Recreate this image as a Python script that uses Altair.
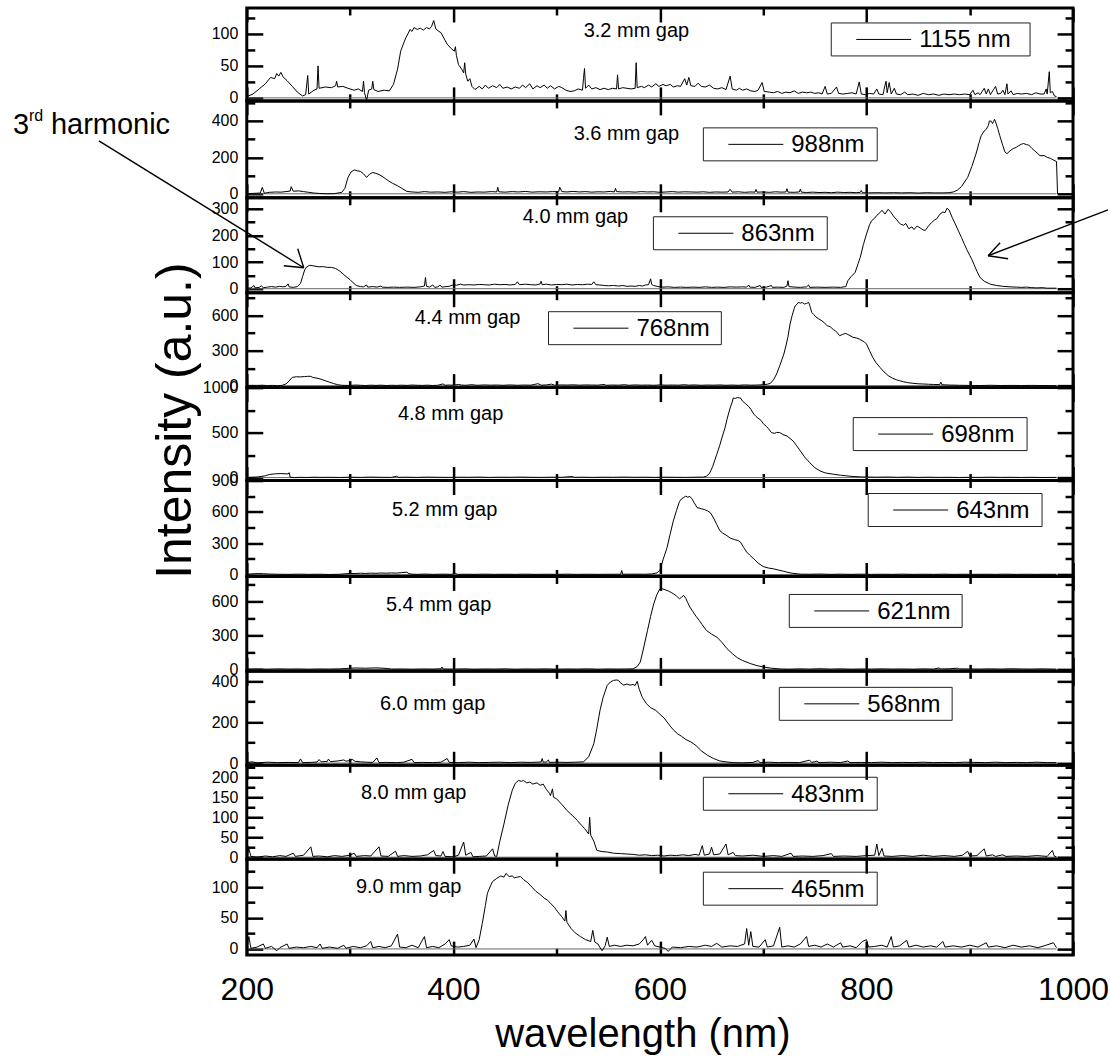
import altair as alt
import pandas as pd

FONT = "Liberation Sans"

# ---------------- data ----------------
gap_labels = ["3.2 mm gap", "3.6 mm gap", "4.0 mm gap", "4.4 mm gap", "4.8 mm gap",
              "5.2 mm gap", "5.4 mm gap", "6.0 mm gap", "8.0 mm gap", "9.0 mm gap"]
peak_labels = ["1155 nm", "988nm", "863nm", "768nm", "698nm",
               "643nm", "621nm", "568nm", "483nm", "465nm"]
y_domains = [[-4.7, 140.6], [-22, 510], [-15, 341], [-17, 797], [-33, 1000],
             [-19, 900], [-18, 823], [-11, 447], [-5, 230], [-10, 145]]
y_major = [[0, 50, 100], [0, 200, 400], [0, 100, 200, 300], [0, 300, 600], [0, 500, 1000],
           [0, 300, 600, 900], [0, 300, 600], [0, 200, 400], [0, 50, 100, 150, 200], [0, 50, 100]]
y_minor = [[25, 75, 125], [100, 300, 500], [50, 150, 250], [150, 450, 750], [250, 750],
           [150, 450, 750], [150, 450, 750], [100, 300], [25, 75, 125, 175, 225], [25, 75, 125]]
x_major = [200, 400, 600, 800, 1000]
x_minor = [300, 500, 700, 900]

s32 = [(200,2),(206,6),(212,14),(218,22),(223,32),(227,30),(229,38),(231,34),(233,40),(235,33),(239,27),(244,18),(249,9),(254,3),(257,5),(259,35),(260,6),(265,12),(268,14),(269,50),(270,15),(276,17),(282,16),(286,19),(287,26),(288,17),(293,18),(298,15),(302,13),(304,12),(308,14),(312,10),(313,26),(314,8),(316,-4),(318,12),(321,14),(322,26),(323,13),(327,10),(333,12),(338,11),(342,21),(346,45),(349,73),(352,86),(354,94),(356,100),(358,107),(360,104),(362,110),(365,107),(368,109),(371,106),(374,110),(377,108),(379,112),(381,121),(383,108),(386,104),(388,102),(391,93),(394,84),(398,77),(401,73),(402,80),(403,66),(405,52),(408,45),(410,39),(411,55),(412,37),(414,26),(416,30),(418,18),(421,13),(425,18),(428,14),(431,20),(434,15),(438,19),(442,16),(445,21),(448,15),(452,17),(456,14),(460,17),(464,15),(467,20),(470,16),(474,22),(477,14),(481,19),(484,16),(488,20),(491,15),(494,19),(498,14),(502,18),(505,16),(509,12),(513,10),(517,11),(521,14),(525,12),(526,30),(527,46),(528,15),(531,20),(534,14),(538,16),(542,13),(546,15),(550,13),(554,15),(558,14),(559,36),(560,14),(564,16),(568,15),(572,14),(576,15),(577,55),(578,16),(582,18),(585,16),(589,20),(592,17),(596,22),(599,18),(603,21),(606,19),(610,21),(613,17),(617,19),(620,18),(624,30),(626,20),(628,32),(630,19),(634,18),(637,23),(640,18),(644,17),(648,20),(652,15),(656,14),(660,16),(664,13),(668,34),(670,14),(674,12),(677,15),(680,12),(684,14),(688,11),(692,10),(695,12),(699,24),(701,10),(706,9),(710,8),(714,10),(718,7),(722,9),(726,8),(730,11),(734,7),(738,9),(742,8),(746,9),(750,7),(754,8),(757,6),(760,18),(762,6),(766,7),(771,17),(773,7),(777,6),(782,7),(786,8),(790,6),(793,25),(795,6),(799,5),(803,7),(807,6),(810,14),(812,6),(816,5),(818,20),(819,26),(820,8),(822,24),(824,6),(827,15),(829,6),(833,5),(837,9),(840,5),(845,6),(850,4),(855,7),(860,5),(865,6),(870,4),(875,6),(880,5),(885,6),(890,5),(895,6),(900,5),(903,12),(905,5),(908,8),(910,5),(914,15),(916,6),(918,14),(920,5),(923,13),(925,18),(927,6),(930,7),(932,12),(934,5),(936,22),(937,6),(940,11),(942,5),(946,7),(950,6),(955,7),(960,5),(964,8),(968,6),(972,6),(974,14),(975,6),(977,41),(978,8),(980,10),(982,3),(984,2)]

s36 = [(200,0),(205,2),(213,4),(215,35),(217,3),(222,8),(228,10),(233,9),(238,12),(242,15),(243,39),(245,14),(250,16),(255,12),(260,8),(265,4),(270,2),(278,0),(285,1),(292,8),(295,30),(298,90),(301,120),(304,131),(307,126),(310,123),(313,110),(316,90),(319,108),(322,117),(325,112),(328,106),(331,96),(334,84),(337,72),(341,58),(346,44),(350,30),(355,13),(360,10),(366,8),(372,12),(378,9),(385,10),(392,8),(398,11),(404,9),(410,12),(417,8),(424,10),(430,9),(437,12),(442,10),(443,36),(444,11),(450,9),(457,12),(463,10),(470,13),(476,9),(483,11),(490,10),(496,12),(502,11),(503,36),(505,12),(510,10),(516,13),(522,10),(528,12),(534,9),(540,11),(546,10),(552,13),(556,10),(557,30),(558,12),(564,10),(570,11),(576,9),(582,12),(588,10),(594,11),(600,8),(606,10),(612,12),(618,9),(624,11),(630,10),(636,9),(642,11),(648,8),(654,10),(660,9),(666,10),(668,25),(670,9),(676,11),(682,8),(688,10),(692,9),(693,24),(694,9),(700,10),(706,8),(712,11),(718,9),(722,10),(723,28),(724,9),(730,8),(735,10),(736,26),(737,9),(742,7),(748,9),(754,7),(760,8),(766,6),(772,9),(778,7),(784,8),(790,6),(794,8),(795,18),(796,6),(802,5),(810,6),(818,5),(826,6),(834,5),(842,6),(850,4),(858,6),(866,5),(874,5),(880,6),(884,10),(888,20),(892,40),(898,90),(902,150),(906,218),(909,280),(911,318),(914,345),(916,354),(918,375),(919,400),(921,398),(922,385),(923,395),(924,409),(925,395),(927,360),(929,320),(932,265),(934,230),(936,220),(939,236),(942,248),(945,255),(947,263),(950,272),(952,276),(955,270),(957,268),(960,250),(963,235),(966,220),(968,209),(972,210),(975,200),(978,195),(981,185),(984,177),(985,0)]

s40 = [(200,2),(204,3),(207,12),(208,3),(212,5),(214,11),(216,4),(220,6),(224,8),(228,6),(232,9),(235,7),(238,9),(240,18),(241,7),(245,5),(249,8),(252,20),(254,45),(256,70),(258,82),(261,88),(264,86),(267,84),(270,82),(274,83),(278,80),(282,80),(286,76),(290,66),(293,56),(296,46),(300,34),(303,22),(306,12),(310,8),(313,7),(316,14),(317,6),(322,8),(326,6),(330,10),(331,6),(336,5),(342,6),(348,5),(355,6),(362,5),(368,7),(372,10),(373,42),(374,9),(377,6),(380,14),(382,5),(385,7),(387,13),(389,6),(393,8),(396,9),(400,15),(403,13),(407,17),(410,14),(415,15),(420,14),(425,16),(430,15),(435,14),(440,17),(445,15),(450,16),(455,14),(460,16),(462,26),(464,15),(470,17),(475,15),(480,14),(484,18),(485,28),(486,15),(490,17),(495,14),(500,16),(505,15),(510,17),(515,14),(520,16),(525,15),(530,17),(534,16),(536,26),(538,15),(542,14),(546,12),(550,11),(555,12),(560,10),(564,12),(568,9),(572,10),(576,9),(580,12),(583,10),(586,14),(589,15),(591,37),(592,16),(594,12),(598,8),(603,6),(608,7),(614,5),(620,6),(626,5),(632,6),(638,5),(644,7),(650,5),(656,6),(662,5),(668,7),(674,6),(680,7),(684,6),(686,14),(687,6),(692,5),(697,12),(698,5),(703,6),(708,12),(709,5),(714,6),(720,5),(723,10),(724,30),(725,8),(730,6),(736,5),(742,7),(744,14),(745,5),(752,6),(760,5),(768,6),(775,5),(780,8),(782,30),(785,45),(789,61),(792,95),(794,118),(797,165),(800,205),(803,240),(805,255),(808,265),(810,275),(813,285),(815,294),(818,280),(821,298),(824,285),(826,273),(829,260),(831,250),(833,242),(836,238),(838,245),(841,225),(844,232),(846,222),(849,235),(852,228),(855,220),(857,219),(860,235),(863,248),(866,258),(868,262),(871,279),(874,288),(876,285),(878,302),(880,295),(883,267),(886,243),(889,217),(892,192),(895,165),(897,148),(900,125),(902,110),(904,92),(907,65),(910,42),(914,28),(920,17),(926,12),(932,9),(939,7),(945,6),(950,5),(955,6),(960,4),(965,3),(970,4),(975,2),(984,2)]

s44 = [(200,0),(205,2),(210,0),(215,3),(220,1),(225,2),(230,0),(234,2),(238,15),(241,40),(244,71),(248,76),(252,75),(256,78),(259,80),(262,80),(264,70),(268,64),(272,55),(276,42),(280,30),(284,18),(288,8),(292,3),(296,2),(300,2),(305,5),(310,3),(315,1),(320,4),(325,2),(330,4),(335,1),(340,3),(345,2),(350,4),(355,2),(360,5),(365,3),(370,2),(375,4),(380,1),(385,3),(390,15),(392,3),(395,5),(400,4),(405,10),(408,5),(412,3),(418,8),(423,3),(430,6),(436,4),(442,5),(448,3),(455,6),(462,3),(468,5),(475,4),(482,17),(485,4),(490,6),(495,13),(498,4),(504,6),(510,5),(516,7),(522,4),(528,6),(534,5),(540,4),(546,10),(548,3),(553,5),(560,4),(566,8),(570,3),(576,6),(582,4),(588,5),(594,3),(600,6),(606,4),(612,5),(618,4),(624,8),(628,4),(633,6),(640,3),(646,5),(652,4),(658,6),(664,3),(670,5),(676,3),(682,6),(688,4),(694,5),(700,8),(704,12),(707,20),(710,50),(713,100),(716,170),(718,220),(720,271),(722,340),(724,420),(726,528),(728,600),(730,660),(731,685),(733,700),(734,714),(736,708),(738,712),(740,700),(742,705),(744,714),(745,690),(747,628),(749,610),(751,590),(754,571),(757,555),(759,540),(762,514),(765,505),(768,480),(770,470),(772,450),(774,428),(777,440),(780,448),(782,438),(784,430),(787,414),(790,410),(793,400),(796,385),(798,375),(800,357),(803,300),(806,243),(809,200),(813,157),(817,118),(821,86),(825,65),(829,50),(832,43),(836,33),(840,26),(845,20),(850,16),(855,14),(860,12),(865,10),(871,9),(872,30),(873,8),(880,5),(890,3),(900,2),(910,1),(920,3),(930,1),(940,2),(950,1),(960,2),(970,1),(984,0)]

s48 = [(200,0),(210,5),(218,20),(222,35),(228,42),(233,44),(238,42),(240,40),(241,55),(242,4),(246,0),(252,3),(258,1),(265,4),(272,2),(280,3),(290,1),(300,4),(310,2),(320,5),(330,3),(340,2),(345,15),(347,3),(355,4),(365,2),(375,5),(385,3),(395,2),(405,4),(415,3),(425,5),(435,2),(445,4),(455,3),(465,5),(475,3),(485,2),(495,4),(505,3),(515,12),(517,3),(525,4),(535,2),(545,4),(555,3),(565,5),(575,3),(585,4),(595,2),(605,4),(615,3),(625,2),(635,4),(642,5),(645,15),(648,45),(651,120),(655,256),(658,360),(660,440),(663,552),(665,650),(668,774),(670,840),(671,885),(673,880),(675,890),(677,885),(678,885),(680,850),(683,820),(686,790),(688,760),(691,704),(693,680),(695,660),(698,635),(700,600),(703,570),(705,545),(708,500),(711,492),(713,502),(716,500),(719,480),(721,470),(723,463),(726,435),(729,407),(732,360),(736,296),(740,230),(745,167),(750,110),(755,74),(760,52),(768,37),(775,26),(781,19),(787,12),(794,8),(800,6),(810,4),(820,6),(830,3),(840,5),(850,2),(860,4),(870,2),(880,3),(890,1),(900,3),(910,2),(920,4),(930,2),(940,3),(950,1),(960,3),(970,1),(984,2)]

s52 = [(200,0),(205,4),(210,8),(216,7),(222,4),(230,2),(240,1),(250,3),(260,1),(270,2),(280,0),(290,2),(295,6),(300,10),(305,9),(310,12),(315,10),(320,13),(325,11),(330,14),(335,12),(340,15),(345,13),(350,18),(355,22),(357,8),(360,3),(365,1),(372,4),(380,1),(390,3),(398,1),(402,10),(404,1),(412,2),(420,1),(430,3),(440,1),(450,2),(460,1),(470,3),(480,1),(490,2),(500,1),(510,3),(520,1),(530,2),(540,1),(550,2),(562,2),(563,38),(564,2),(575,3),(585,2),(592,5),(597,15),(600,38),(603,140),(607,260),(610,390),(613,514),(616,610),(619,700),(621,725),(623,737),(625,750),(627,740),(629,748),(631,725),(633,690),(636,641),(640,630),(643,622),(646,610),(649,590),(652,540),(655,480),(658,420),(661,395),(664,378),(668,349),(672,335),(676,324),(678,310),(681,260),(684,215),(687,185),(691,149),(695,110),(700,76),(705,62),(710,54),(715,42),(720,30),(723,22),(728,12),(736,3),(745,2),(755,4),(765,1),(775,3),(785,1),(795,3),(805,1),(815,2),(825,1),(835,3),(845,1),(855,2),(865,1),(875,3),(885,1),(895,2),(905,1),(915,2),(925,1),(935,3),(945,1),(955,2),(965,1),(975,2),(984,1)]

s54 = [(200,0),(210,3),(220,1),(230,4),(240,2),(250,3),(260,1),(270,3),(280,2),(290,4),(297,8),(305,12),(315,10),(325,13),(336,8),(340,2),(350,3),(360,1),(370,3),(380,2),(388,5),(389,21),(390,3),(400,2),(410,4),(420,1),(430,3),(440,2),(450,4),(460,1),(470,3),(480,2),(490,4),(500,1),(510,3),(520,2),(530,4),(540,1),(550,3),(560,2),(568,3),(574,4),(578,25),(581,65),(584,180),(588,345),(591,470),(594,581),(597,660),(600,714),(603,712),(605,705),(608,695),(611,680),(613,670),(616,650),(619,625),(621,640),(623,655),(625,630),(627,590),(629,552),(632,510),(635,470),(638,434),(641,395),(645,345),(650,312),(655,286),(660,240),(665,183),(670,140),(675,103),(680,78),(688,50),(694,33),(700,21),(708,10),(717,3),(725,1),(735,4),(745,2),(755,5),(765,2),(775,4),(785,1),(795,3),(805,2),(815,4),(825,2),(835,3),(845,1),(855,4),(865,2),(870,12),(872,3),(880,5),(888,10),(890,4),(900,3),(910,2),(920,4),(930,2),(940,5),(950,3),(960,2),(970,4),(984,1)]

s60 = [(200,2),(205,6),(210,1),(220,4),(230,2),(240,3),(250,2),(252,20),(254,2),(262,3),(268,5),(270,17),(272,6),(278,8),(279,19),(281,7),(288,10),(294,15),(296,9),(300,12),(302,18),(305,8),(310,6),(316,4),(322,3),(326,25),(328,2),(335,3),(345,2),(352,4),(360,18),(362,2),(370,3),(380,2),(388,4),(394,22),(396,3),(405,2),(415,4),(425,2),(435,3),(445,4),(455,2),(465,4),(475,3),(485,5),(486,22),(487,4),(490,5),(492,15),(493,3),(500,4),(510,3),(518,4),(526,6),(531,30),(536,94),(539,170),(542,257),(545,320),(549,379),(552,395),(555,403),(558,405),(560,403),(562,390),(565,380),(568,385),(571,380),(574,383),(576,378),(578,398),(580,360),(583,320),(587,289),(591,270),(596,257),(600,238),(604,220),(607,200),(610,180),(613,162),(617,143),(621,130),(625,115),(630,103),(635,85),(640,60),(646,38),(652,22),(658,10),(665,5),(671,2),(680,1),(690,3),(695,12),(697,2),(705,4),(715,2),(725,3),(735,2),(745,14),(747,3),(752,9),(754,2),(765,4),(775,2),(782,10),(784,2),(795,3),(805,2),(815,4),(825,2),(835,3),(845,2),(855,4),(865,2),(875,3),(885,2),(895,4),(905,3),(915,2),(925,4),(935,2),(945,3),(955,2),(965,4),(975,2),(984,2)]

s80 = [(200,2),(202,21),(204,2),(210,0),(218,3),(225,1),(232,4),(238,2),(245,10),(247,2),(255,5),(262,26),(264,2),(270,3),(278,1),(285,4),(292,2),(300,5),(304,10),(306,2),(314,4),(320,3),(328,26),(330,3),(337,2),(344,15),(346,2),(352,4),(360,2),(368,3),(375,6),(381,17),(383,4),(388,3),(390,14),(392,2),(400,1),(405,5),(410,38),(412,5),(417,12),(419,1),(425,2),(432,3),(438,21),(440,3),(442,2),(445,40),(449,83),(453,130),(457,167),(460,185),(463,192),(466,190),(468,192),(471,186),(474,188),(477,183),(481,186),(484,180),(487,183),(490,170),(493,160),(494,154),(496,171),(497,150),(500,146),(505,132),(510,117),(515,105),(520,92),(523,83),(527,72),(531,58),(532,100),(533,55),(536,40),(539,17),(544,14),(549,13),(555,10),(562,9),(568,8),(574,7),(580,5),(586,6),(592,4),(598,5),(604,3),(610,5),(616,4),(622,6),(628,4),(634,7),(638,5),(641,29),(643,5),(648,8),(650,25),(652,6),(658,8),(664,33),(666,6),(671,12),(673,4),(680,3),(690,5),(700,2),(710,4),(718,2),(727,10),(729,2),(738,3),(748,2),(758,4),(766,9),(768,2),(778,3),(790,2),(800,4),(808,5),(810,33),(812,4),(815,22),(817,3),(825,2),(835,4),(845,2),(855,5),(865,2),(875,4),(885,2),(893,5),(898,15),(900,3),(907,4),(914,21),(916,3),(922,6),(925,2),(932,6),(935,2),(945,3),(955,2),(965,4),(975,2),(980,17),(982,2),(984,1)]

s90 = [(200,0),(202,20),(204,1),(210,3),(216,8),(218,1),(224,4),(229,-3),(232,2),(239,8),(241,1),(248,3),(255,2),(262,4),(268,2),(271,8),(273,1),(280,3),(288,1),(294,6),(296,1),(303,4),(310,2),(316,5),(320,12),(322,2),(328,4),(334,2),(340,5),(346,24),(348,3),(354,2),(360,6),(366,2),(372,20),(374,2),(380,4),(386,2),(392,8),(396,15),(398,5),(404,3),(410,4),(416,6),(420,16),(422,2),(425,15),(428,41),(431,70),(433,90),(436,102),(438,109),(442,114),(446,118),(449,116),(451,122),(454,117),(457,118),(459,115),(462,116),(465,117),(468,112),(472,107),(476,100),(480,93),(484,88),(488,82),(491,79),(494,74),(498,67),(501,60),(505,52),(508,45),(509,62),(510,43),(514,33),(518,26),(523,20),(528,15),(533,12),(535,30),(537,11),(540,8),(544,-3),(547,5),(549,19),(551,4),(556,6),(562,4),(568,6),(574,5),(580,8),(584,15),(586,20),(588,6),(592,14),(595,5),(600,3),(605,1),(608,-4),(612,3),(620,2),(628,4),(636,3),(644,6),(650,4),(655,9),(660,3),(668,5),(675,4),(682,8),(684,33),(686,6),(688,28),(690,4),(696,3),(702,15),(704,3),(710,5),(716,35),(718,3),(724,5),(730,3),(736,8),(742,20),(744,4),(750,6),(756,3),(762,8),(768,3),(775,10),(777,3),(784,5),(790,2),(796,12),(800,15),(802,3),(808,4),(815,6),(820,3),(824,20),(826,3),(832,5),(839,14),(841,3),(848,6),(855,3),(862,5),(868,3),(874,12),(876,3),(884,5),(892,3),(900,6),(908,3),(916,10),(918,3),(926,5),(934,2),(942,6),(950,3),(958,5),(966,2),(974,6),(981,10),(984,2)]

spectra = [s32, s36, s40, s44, s48, s52, s54, s60, s80, s90]
baseline_wl = [200, 984]
baseline_v = [0, 0]

# ---------------- layout (pixels, relative to each panel's plot origin) ----------------
PLOT_W = 827
panel_h = [93, 97, 95, 95, 93, 96, 95, 94, 94, 96]
legend_xy = [(585, 15), (457, 27), (407, 19), (302, 19), (607, 30),
             (622, 13), (543, 18), (533, 16), (457, 12), (457, 13)]
legend_w = [199, 174, 174, 173, 174, 174, 173, 173, 174, 174]
LEGEND_H = 33
gap_xy = [(390, 23), (380, 33), (329, 19), (221, 25), (204, 26),
          (198, 29), (192, 29), (186, 33), (167, 28), (162, 28)]
# arrows drawn in the 4.0 mm panel
arrow_segs = [(-148, -57, 57, 70), (37, 68, 57, 70), (51, 51, 57, 70),
              (862, 12, 742, 58), (762, 61, 742, 58), (754, 45, 742, 58)]

ONE = pd.DataFrame({"k": [0]})


def axis(orient, values, size, **kw):
    opts = dict(orient=orient, values=values, tickSize=size, offset=-size, domain=False,
                grid=False, labels=False, ticks=True, tickWidth=2.5, tickColor="black",
                title=None, format="d")
    opts.update(kw)
    return alt.Axis(**opts)


def seg(x1, y1, x2, y2, w=1.4):
    return alt.Chart(ONE).mark_rule(color="black", strokeWidth=w).encode(
        x=alt.value(x1), y=alt.value(y1), x2=alt.value(x2), y2=alt.value(y2))


def txt(s, x, y, size, align="left", baseline="alphabetic", angle=0):
    kw = dict(text=s, font=FONT, fontSize=size, align=align, baseline=baseline, color="black")
    if angle:
        kw["angle"] = angle
    return alt.Chart(ONE).mark_text(**kw).encode(x=alt.value(x), y=alt.value(y))


def panel(i):
    df = pd.DataFrame(spectra[i], columns=["wl", "v"])
    base0 = pd.DataFrame({"wl": baseline_wl, "v": baseline_v})
    xs = alt.Scale(domain=[200, 1000], nice=False, zero=False)
    ys = alt.Scale(domain=y_domains[i], nice=False, zero=False)
    last = i == len(spectra) - 1
    if last:
        xb = axis("bottom", x_major, 14, labels=True, labelFontSize=32, labelFont=FONT,
                  labelColor="black", labelPadding=19, labelFlush=False,
                  title="wavelength (nm)", titleFont=FONT, titleFontSize=40,
                  titleFontWeight="normal", titleColor="black", titleX=396, titleY=105,
                  titleBaseline="alphabetic")
    else:
        xb = axis("bottom", x_major, 14)
    yl = axis("left", y_major[i], 16, labels=True, labelFontSize=16, labelFont=FONT,
              labelColor="black", labelPadding=9, labelFlush=False, labelOverlap=False)

    layers = [
        alt.Chart(base0).mark_line(color="#666666", strokeWidth=1).encode(
            x=alt.X("wl:Q", scale=xs, axis=axis("bottom", x_minor, 7)),
            y=alt.Y("v:Q", scale=ys, axis=axis("left", y_minor[i], 8))),
        alt.Chart(df).mark_line(color="black", strokeWidth=1, clip=True).encode(
            x=alt.X("wl:Q", scale=xs, axis=xb),
            y=alt.Y("v:Q", scale=ys, axis=yl)),
        alt.Chart(base0).mark_line(strokeOpacity=0).encode(
            x=alt.X("wl:Q", scale=xs, axis=axis("top", x_major, 14)),
            y=alt.Y("v:Q", scale=ys, axis=axis("right", y_major[i], 16))),
        alt.Chart(base0).mark_line(strokeOpacity=0).encode(
            x=alt.X("wl:Q", scale=xs, axis=axis("top", x_minor, 7)),
            y=alt.Y("v:Q", scale=ys, axis=axis("right", y_minor[i], 8))),
        # panel frame
        alt.Chart(ONE).mark_rect(fillOpacity=0, stroke="black", strokeWidth=3).encode(
            x=alt.value(0), x2=alt.value(PLOT_W), y=alt.value(0), y2=alt.value(panel_h[i])),
    ]
    lx, ly = legend_xy[i]
    lw = legend_w[i]
    layers += [
        alt.Chart(ONE).mark_rect(fillOpacity=0, stroke="#222222", strokeWidth=1).encode(
            x=alt.value(lx), x2=alt.value(lx + lw), y=alt.value(ly), y2=alt.value(ly + LEGEND_H)),
        alt.Chart(ONE).mark_rule(color="black", strokeWidth=1).encode(
            x=alt.value(lx + 25), x2=alt.value(lx + 80), y=alt.value(ly + LEGEND_H / 2)),
        txt(peak_labels[i], lx + 88, ly + LEGEND_H / 2 + 1, 24, baseline="middle"),
        txt(gap_labels[i], gap_xy[i][0], gap_xy[i][1], 20, align="center", baseline="middle"),
    ]
    if i == 2:
        layers += [seg(*s) for s in arrow_segs]
        layers += [txt("3", -234, -64, 29), txt("rd", -218, -77, 16), txt("harmonic", -196, -64, 29)]
    if i == 4:
        layers += [txt("Intensity (a.u.)", -71, 33, 50, align="center", baseline="middle", angle=270)]

    return alt.layer(*layers).resolve_axis(x="independent", y="independent").properties(
        width=PLOT_W, height=panel_h[i])


chart = alt.vconcat(*[panel(i) for i in range(len(spectra))], spacing=0, bounds="flush").properties(
    padding={"left": 12, "top": 5.5, "right": 0, "bottom": 0}
).configure_view(stroke="black", strokeWidth=3).configure(font=FONT)

chart.save("out.html", embed_options={"renderer": "svg", "actions": False})
